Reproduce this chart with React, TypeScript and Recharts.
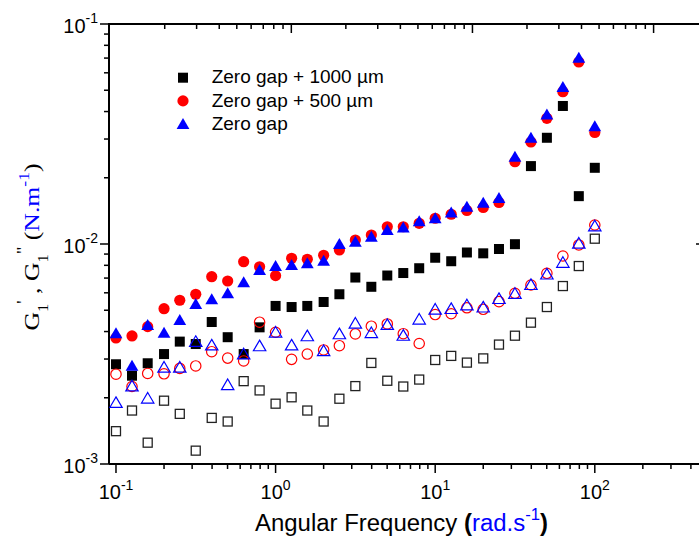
import { Legend, Label, Scatter, ScatterChart, XAxis, YAxis } from "recharts";

// angular frequency, rad/s
const FREQ = [
  0.1, 0.126, 0.158, 0.2, 0.251, 0.316, 0.398, 0.501, 0.631, 0.794, 1, 1.26, 1.58, 2, 2.51, 3.16,
  3.98, 5.01, 6.31, 7.94, 10, 12.6, 15.8, 20, 25.1, 31.6, 39.8, 50.1, 63.1, 79.4, 100,
];

// G' (filled symbols)
const GP_1000 = [
  0.00284, 0.00252, 0.00287, 0.00316, 0.0036, 0.00351, 0.00442, 0.00377, 0.00316, 0.00418, 0.00523,
  0.00517, 0.00523, 0.00545, 0.00591, 0.00704, 0.00639, 0.00719, 0.00738, 0.00776, 0.00866, 0.00835,
  0.00915, 0.00907, 0.00949, 0.00998, 0.0226, 0.0304, 0.0424, 0.0165, 0.0222,
];
const GP_500 = [
  0.00374, 0.00382, 0.00421, 0.00508, 0.00555, 0.00591, 0.0071, 0.00679, 0.00831, 0.00788, 0.00718,
  0.00861, 0.00852, 0.00889, 0.00939, 0.01043, 0.01099, 0.01198, 0.01198, 0.01242, 0.01309, 0.01365,
  0.0142, 0.01465, 0.01544, 0.02366, 0.02908, 0.03727, 0.04923, 0.0672, 0.03213,
];
const GP_ZERO = [
  0.00393, 0.0028, 0.00428, 0.00395, 0.00451, 0.00534, 0.00561, 0.00597, 0.0067, 0.00762, 0.00794,
  0.00803, 0.00817, 0.0084, 0.01, 0.01024, 0.01079, 0.01158, 0.01189, 0.01269, 0.01309, 0.01391,
  0.01477, 0.01541, 0.01619, 0.02494, 0.0304, 0.03878, 0.05171, 0.07021, 0.03428,
];

// G'' (open symbols)
const GPP_1000 = [
  0.00141, 0.00175, 0.00125, 0.00194, 0.00169, 0.00115, 0.00162, 0.00156, 0.00238, 0.00216, 0.00188,
  0.00201, 0.00175, 0.00156, 0.00198, 0.00226, 0.00288, 0.00239, 0.00225, 0.00242, 0.00297, 0.0031,
  0.00289, 0.00302, 0.00349, 0.00383, 0.00439, 0.00517, 0.00644, 0.00794, 0.01057,
];
const GPP_500 = [
  0.00256, 0.00225, 0.00258, 0.00257, 0.00272, 0.00279, 0.00324, 0.00303, 0.00294, 0.00441, 0.00397,
  0.00299, 0.00316, 0.0033, 0.00345, 0.0039, 0.00423, 0.00433, 0.00391, 0.00353, 0.00478, 0.00482,
  0.00513, 0.00505, 0.00547, 0.00597, 0.00651, 0.00736, 0.00882, 0.0099, 0.0122,
];
const GPP_ZERO = [
  0.0019, 0.00226, 0.00199, 0.00275, 0.00275, 0.0036, 0.00347, 0.00229, 0.00316, 0.00344, 0.00397,
  0.00347, 0.00382, 0.00327, 0.0039, 0.00436, 0.00395, 0.0043, 0.00384, 0.00455, 0.00505, 0.00508,
  0.00528, 0.00516, 0.00564, 0.00595, 0.00653, 0.00729, 0.00824, 0.01007, 0.01207,
];

const LEGEND_NAMES = ["Zero gap + 1000 µm", "Zero gap + 500 µm", "Zero gap"];

const X_TICKS = [
  0.1, 0.2, 0.3, 0.4, 0.5, 0.6, 0.7, 0.8, 0.9, 1, 2, 3, 4, 5, 6, 7, 8, 9, 10, 20, 30, 40, 50, 60, 70,
  80, 90, 100, 200, 300, 400,
];
const X_MAJOR = [0.1, 1, 10, 100];
const X_EXP = ["-1", "0", "1", "2"];

// top frame axis has its own decade spacing (not linked to the bottom one)
const TOP_TICKS = [
  0.2, 0.3, 0.4, 0.5, 0.6, 0.7, 0.8, 0.9, 1, 2, 3, 4, 5, 6, 7, 8, 9, 10, 20, 30, 40, 50, 60, 70, 80,
  90, 100,
];
const TOP_MAJOR = [1, 10, 100];

const Y_TICKS = [
  0.001, 0.002, 0.003, 0.004, 0.005, 0.006, 0.007, 0.008, 0.009, 0.01, 0.02, 0.03, 0.04, 0.05, 0.06,
  0.07, 0.08, 0.09, 0.1,
];
const Y_MAJOR = [0.001, 0.01, 0.1];
const Y_EXP = ["-3", "-2", "-1"];

const PLOT_W = 592; // frame width, left axis to right axis

const SANS = "'Liberation Sans', Arial, Helvetica, sans-serif";
const SERIF = "'Liberation Serif', 'Times New Roman', serif";
const BLUE = "#0000ff";
const RED = "#ff0000";

const toPoints = (values: number[]) => FREQ.map((x, i) => ({ x, y: values[i] }));

type MarkProps = { cx?: number; cy?: number };

const FilledSquare = ({ cx = 0, cy = 0 }: MarkProps) => (
  <rect x={cx - 5} y={cy - 5} width={10} height={10} fill="#000" />
);
const FilledCircle = ({ cx = 0, cy = 0 }: MarkProps) => <circle cx={cx} cy={cy} r={5.6} fill={RED} />;
const FilledTriangle = ({ cx = 0, cy = 0 }: MarkProps) => (
  <polygon points={`${cx},${cy - 6} ${cx + 6.4},${cy + 5} ${cx - 6.4},${cy + 5}`} fill={BLUE} />
);
const OpenSquare = ({ cx = 0, cy = 0 }: MarkProps) => (
  <rect x={cx - 4.5} y={cy - 4.5} width={9} height={9} fill="none" stroke="#222" strokeWidth={1.3} />
);
const OpenCircle = ({ cx = 0, cy = 0 }: MarkProps) => (
  <circle cx={cx} cy={cy} r={5.2} fill="none" stroke={RED} strokeWidth={1.2} />
);
const OpenTriangle = ({ cx = 0, cy = 0 }: MarkProps) => (
  <polygon
    points={`${cx},${cy - 5.8} ${cx + 6.2},${cy + 4.8} ${cx - 6.2},${cy + 4.8}`}
    fill="none"
    stroke={BLUE}
    strokeWidth={1.2}
  />
);

const LEGEND_MARKS = [FilledSquare, FilledCircle, FilledTriangle];

function BottomTick(props: any) {
  const { x, y, payload } = props;
  const i = X_MAJOR.indexOf(payload.value);
  return (
    <g>
      <line x1={x} x2={x} y1={y} y2={y + (i >= 0 ? 9 : 5)} stroke="#000" strokeWidth={1.5} />
      {i >= 0 && (
        <text x={x} y={y + 35} textAnchor="middle" fontFamily={SANS} fontSize={20} fill="#000">
          10
          <tspan fontSize={14} dy={-9}>
            {X_EXP[i]}
          </tspan>
        </text>
      )}
    </g>
  );
}

// top frame: ticks hang down into the plot
function TopTick(props: any) {
  const { x, y, payload } = props;
  const major = TOP_MAJOR.includes(payload.value);
  return (
    <g>
      <line x1={x} x2={x} y1={y} y2={y + (major ? 9 : 5)} stroke="#000" strokeWidth={1.5} />
    </g>
  );
}

function LeftTick(props: any) {
  const { x, y, payload } = props;
  const i = Y_MAJOR.indexOf(payload.value);
  return (
    <g>
      <line x1={x - (i >= 0 ? 9 : 5)} x2={x} y1={y} y2={y} stroke="#000" strokeWidth={1.5} />
      {payload.value === 0.1 && (
        <line x1={x - 1} x2={x + PLOT_W} y1={y} y2={y} stroke="#000" strokeWidth={2} />
      )}
      {i >= 0 && (
        <text x={x - 11} y={y + 9} textAnchor="end" fontFamily={SANS} fontSize={20} fill="#000">
          10
          <tspan fontSize={14} dy={-10}>
            {Y_EXP[i]}
          </tspan>
        </text>
      )}
    </g>
  );
}

function RightTick(props: any) {
  const { x, y } = props;
  return <line x1={x - 5} x2={x} y1={y} y2={y} stroke="#000" strokeWidth={1.5} />;
}

function YTitle() {
  return (
    <text
      transform="translate(39,247) rotate(-90)"
      textAnchor="middle"
      fontFamily={SERIF}
      fontSize={22}
      fill="#000"
      textLength={167}
      lengthAdjust="spacingAndGlyphs"
    >
      G
      <tspan fontSize={14} dy={9}>1</tspan>
      <tspan fontSize={16} dy={-20}>'</tspan>
      <tspan dy={11}> , G</tspan>
      <tspan fontSize={14} dy={9}>1</tspan>
      <tspan fontSize={16} dy={-20}>"</tspan>
      <tspan dy={11}>  (</tspan>
      <tspan fill={BLUE}>N.m</tspan>
      <tspan fill={BLUE} fontSize={15} dy={-10}>-1</tspan>
      <tspan dy={10}>)</tspan>
    </text>
  );
}

function XTitle() {
  return (
    <text
      x={401.5}
      y={531}
      textAnchor="middle"
      fontFamily={SANS}
      fontSize={23}
      fill="#000"
      textLength={293}
      lengthAdjust="spacingAndGlyphs"
    >
      Angular Frequency <tspan fontWeight="bold">(</tspan>
      <tspan fill={BLUE}>rad.s</tspan>
      <tspan fill={BLUE} fontSize={16} dy={-11}>-1</tspan>
      <tspan fontWeight="bold" dy={11}>)</tspan>
    </text>
  );
}

function SeriesLegend() {
  return (
    <svg width={260} height={80} style={{ display: "block", overflow: "visible" }}>
      {LEGEND_NAMES.map((name, i) => {
        const Mark = LEGEND_MARKS[i];
        return (
          <g key={name}>
            <Mark cx={23} cy={17.7 + i * 23.2} />
            <text x={51.7} y={23.3 + i * 23.4} fontFamily={SANS} fontSize={19} fill="#000">
              {name}
            </text>
          </g>
        );
      })}
    </svg>
  );
}

// small chart whose bottom axis is the top edge of the frame (y = 24)
function TopFrame() {
  return (
    <ScatterChart width={712} height={60} margin={{ top: 0, right: 11, bottom: 0, left: 0 }}>
      <XAxis
        dataKey="x"
        type="number"
        scale="log"
        domain={[0.0985, 182.7]}
        allowDataOverflow
        ticks={TOP_TICKS}
        interval={0}
        height={36}
        tickSize={0}
        tickMargin={0}
        tickLine={false}
        tick={<TopTick />}
        axisLine={{ stroke: "#000", strokeWidth: 2 }}
      />
      <YAxis
        dataKey="y"
        type="number"
        scale="log"
        domain={[0.001, 0.1]}
        width={109}
        tick={false}
        tickLine={false}
        axisLine={false}
      />
      <Scatter data={toPoints(GP_ZERO)} fill="none" isAnimationActive={false} legendType="none" />
    </ScatterChart>
  );
}

export default function App() {
  return (
    <div
      style={{
        position: "fixed",
        left: 0,
        top: 0,
        width: 699,
        height: 540,
        overflow: "hidden",
        background: "#fff",
      }}
    >
      <div style={{ position: "absolute", left: 0, top: 0, zIndex: 1 }}>
        <ScatterChart width={712} height={540} margin={{ top: 24, right: 10, bottom: 0, left: 0 }}>
          <XAxis
            dataKey="x"
            type="number"
            scale="log"
            domain={[0.09041, 462.8]}
            allowDataOverflow
            ticks={X_TICKS}
            interval={0}
            height={76}
            tickSize={0}
            tickMargin={0}
            tickLine={false}
            tick={<BottomTick />}
            axisLine={{ stroke: "#000", strokeWidth: 2 }}
          >
            <Label content={() => <XTitle />} />
          </XAxis>
          <YAxis
            yAxisId={0}
            dataKey="y"
            type="number"
            scale="log"
            domain={[0.001, 0.1]}
            allowDataOverflow
            ticks={Y_TICKS}
            interval={0}
            width={109}
            tickSize={0}
            tickMargin={0}
            tickLine={false}
            tick={<LeftTick />}
            axisLine={{ stroke: "#000", strokeWidth: 2 }}
          >
            <Label content={() => <YTitle />} />
          </YAxis>
          <YAxis
            yAxisId={1}
            orientation="right"
            dataKey="y"
            type="number"
            scale="log"
            domain={[0.001, 0.1]}
            allowDataOverflow
            ticks={Y_MAJOR}
            interval={0}
            width={1}
            tickSize={0}
            tickMargin={0}
            tickLine={false}
            tick={<RightTick />}
            axisLine={{ stroke: "#000", strokeWidth: 2 }}
          />
          {/* invisible series so the right frame axis gets drawn */}
          <Scatter name="frame" data={toPoints(GP_ZERO)} yAxisId={1} shape={() => <g />} isAnimationActive={false} legendType="none" />
          <Scatter name="G' 1000" data={toPoints(GP_1000)} shape={(p: any) => <FilledSquare cx={p.cx} cy={p.cy} />} isAnimationActive={false} legendType="none" />
          <Scatter name="G' 500" data={toPoints(GP_500)} shape={(p: any) => <FilledCircle cx={p.cx} cy={p.cy} />} isAnimationActive={false} legendType="none" />
          <Scatter name="G' zero" data={toPoints(GP_ZERO)} shape={(p: any) => <FilledTriangle cx={p.cx} cy={p.cy} />} isAnimationActive={false} legendType="none" />
          <Scatter name="G'' 1000" data={toPoints(GPP_1000)} shape={(p: any) => <OpenSquare cx={p.cx} cy={p.cy} />} isAnimationActive={false} legendType="none" />
          <Scatter name="G'' 500" data={toPoints(GPP_500)} shape={(p: any) => <OpenCircle cx={p.cx} cy={p.cy} />} isAnimationActive={false} legendType="none" />
          <Scatter name="G'' zero" data={toPoints(GPP_ZERO)} shape={(p: any) => <OpenTriangle cx={p.cx} cy={p.cy} />} isAnimationActive={false} legendType="none" />
          <Legend
            layout="vertical"
            align="center"
            verticalAlign="middle"
            content={() => <SeriesLegend />}
            wrapperStyle={{ left: 160, top: 60, width: 260, height: 80 }}
          />
        </ScatterChart>
      </div>
      <div style={{ position: "absolute", left: 0, top: 0, zIndex: 5, pointerEvents: "none" }}>
        <TopFrame />
      </div>
    </div>
  );
}
